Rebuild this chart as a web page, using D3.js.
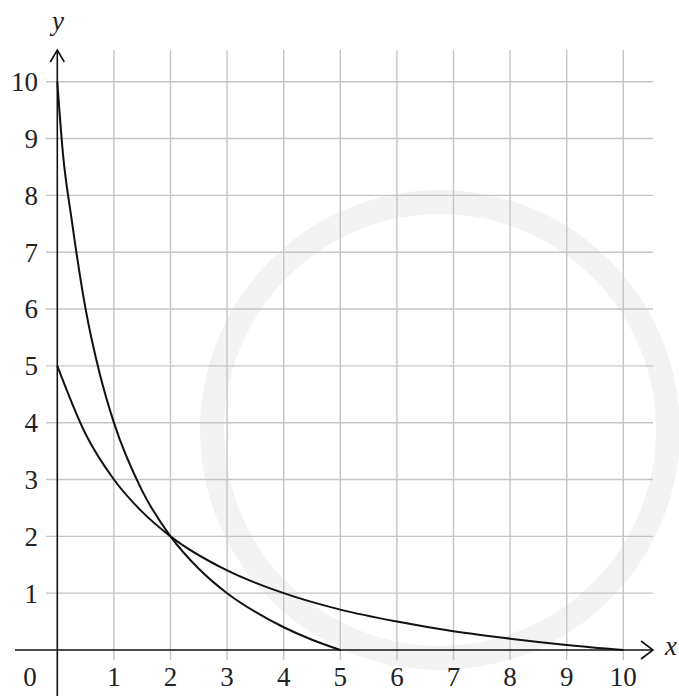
<!DOCTYPE html>
<html>
<head>
<meta charset="utf-8">
<script src="https://cdnjs.cloudflare.com/ajax/libs/d3/7.8.5/d3.min.js"></script>
<style>
  body { margin: 0; background: #fff; }
</style>
</head>
<body>
<svg width="679" height="696"></svg>
<script>
// values
var ticks = [1, 2, 3, 4, 5, 6, 7, 8, 9, 10];

var curveAx = [0, 0.1, 0.25, 0.5, 0.75, 1, 1.5, 2, 2.5, 3, 3.5, 4, 4.5, 5];
var curveAy = [10, 8.73, 7.6, 6, 4.86, 4, 2.8, 2, 1.43, 1, 0.67, 0.4, 0.18, 0];

var curveBx = [0, 0.5, 1, 1.5, 2, 3, 4, 5, 6, 7, 8, 9, 10];
var curveBy = [5, 3.8, 3, 2.43, 2, 1.4, 1, 0.71, 0.5, 0.33, 0.2, 0.09, 0];

var font = "'Liberation Serif', 'Times New Roman', Times, 'DejaVu Serif', serif";

var svg = d3.select("svg");

var x = d3.scaleLinear().domain([0, 10]).range([57.3, 623.3]);
var y = d3.scaleLinear().domain([0, 10]).range([650, 81.7]);

// faint watermark ring
svg.append("circle")
	.attr("cx", 440).attr("cy", 430).attr("r", 228)
	.attr("fill", "none").attr("stroke", "#f3f3f3").attr("stroke-width", 24);

// grid
svg.append("g").selectAll("line")
	.data(ticks)
	.enter().append("line")
	.attr("x1", d => x(d)).attr("x2", d => x(d))
	.attr("y1", 50).attr("y2", 660)
	.attr("stroke", "#c4c4c4").attr("stroke-width", 1.4);

svg.append("g").selectAll("line")
	.data(ticks)
	.enter().append("line")
	.attr("x1", 46).attr("x2", 653)
	.attr("y1", d => y(d)).attr("y2", d => y(d))
	.attr("stroke", "#c4c4c4").attr("stroke-width", 1.4);

// axes
svg.append("line")
	.attr("x1", 15).attr("x2", 653)
	.attr("y1", y(0)).attr("y2", y(0))
	.attr("stroke", "#111").attr("stroke-width", 1.6);
svg.append("path")
	.attr("d", "M641," + (y(0) - 9) + " L653," + y(0) + " L641," + (y(0) + 9))
	.attr("fill", "none").attr("stroke", "#111").attr("stroke-width", 1.6);

svg.append("line")
	.attr("x1", x(0)).attr("x2", x(0))
	.attr("y1", 50).attr("y2", 696)
	.attr("stroke", "#111").attr("stroke-width", 1.6);
svg.append("path")
	.attr("d", "M" + (x(0) - 7) + ",62 L" + x(0) + ",50 L" + (x(0) + 7) + ",62")
	.attr("fill", "none").attr("stroke", "#111").attr("stroke-width", 1.6);

// tick labels
svg.append("g").selectAll("text")
	.data(ticks)
	.enter().append("text")
	.attr("x", d => x(d))
	.attr("y", 686)
	.attr("text-anchor", "middle")
	.attr("font-family", font)
	.attr("font-size", 27)
	.attr("fill", "#222")
	.text(d => d);

svg.append("g").selectAll("text")
	.data(ticks)
	.enter().append("text")
	.attr("x", 38)
	.attr("y", d => y(d))
	.attr("dy", "0.35em")
	.attr("text-anchor", "end")
	.attr("font-family", font)
	.attr("font-size", 27)
	.attr("fill", "#222")
	.text(d => d);

svg.append("text")
	.attr("x", 30).attr("y", 686)
	.attr("text-anchor", "middle")
	.attr("font-family", font)
	.attr("font-size", 27)
	.attr("fill", "#222")
	.text("0");

svg.append("text")
	.attr("x", 52).attr("y", 30)
	.attr("font-family", font)
	.attr("font-size", 27).attr("font-style", "italic")
	.attr("fill", "#222")
	.text("y");
svg.append("text")
	.attr("x", 665).attr("y", 655)
	.attr("font-family", font)
	.attr("font-size", 27).attr("font-style", "italic")
	.attr("fill", "#222")
	.text("x");

// curves
var line = d3.line()
	.x(d => x(d[0]))
	.y(d => y(d[1]))
	.curve(d3.curveMonotoneX);

svg.append("path")
	.datum(d3.zip(curveAx, curveAy))
	.attr("d", line)
	.attr("fill", "none").attr("stroke", "#111").attr("stroke-width", 2);

svg.append("path")
	.datum(d3.zip(curveBx, curveBy))
	.attr("d", line)
	.attr("fill", "none").attr("stroke", "#111").attr("stroke-width", 2);
</script>
</body>
</html>
